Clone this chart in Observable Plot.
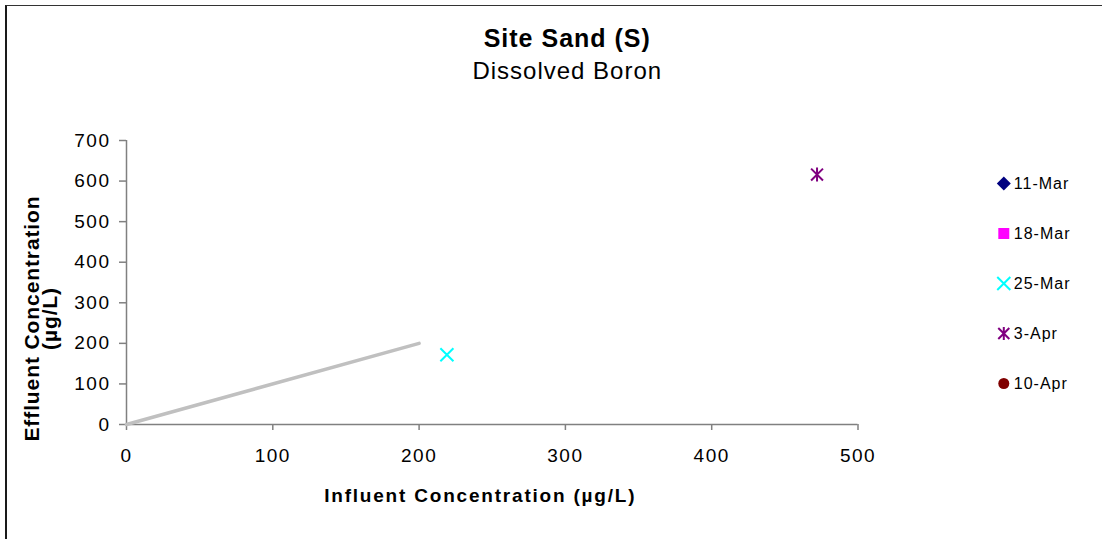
<!DOCTYPE html>
<html>
<head>
<meta charset="utf-8">
<script src="https://cdn.jsdelivr.net/npm/d3@7"></script>
<script src="https://cdn.jsdelivr.net/npm/@observablehq/plot@0.6"></script>
<style>
  html, body { margin: 0; padding: 0; background: #fff; }
  #wrap { position: relative; width: 1102px; height: 539px; overflow: hidden; background: #fff; }
  #border { position: absolute; left: 5px; top: 5px; width: 1300px; height: 800px;
            border-left: 2px solid #1a1a1a; border-top: 1px solid #333; box-sizing: border-box; }
  #main, #legend { position: absolute; top: 0; }
  #main { left: 0; }
  #legend { left: 980px; }
  svg text { letter-spacing: 1px; }
  .tick-lab text { letter-spacing: 1.5px; }
  .axis-title text { letter-spacing: 1.8px; }
  .axis-title-y text { letter-spacing: 0.9px; }
</style>
</head>
<body>
<div id="wrap">
  <div id="border"></div>
  <div id="main"></div>
  <div id="legend"></div>
</div>
<script>
// ---- data ----
const titleText = "Site Sand (S)";
const subtitleText = "Dissolved Boron";
const xLabel = "Influent Concentration (µg/L)";
const yLabelLines = ["Effluent Concentration", "(µg/L)"];

const dates = ["11-Mar", "18-Mar", "25-Mar", "3-Apr", "10-Apr"];
const influent = [null, null, 219, 472, null];
const effluent = [null, null, 172, 616, null];
const colors = ["#000080", "#FF00FF", "#00FFFF", "#800080", "#800000"];

const refX = [0, 200];
const refY = [0, 200];

const xTicks = [0, 100, 200, 300, 400, 500];
const yTicks = [0, 100, 200, 300, 400, 500, 600, 700];

// ---- symbols ----
const excelStar = {
  draw(ctx, size) {
    const h = Math.sqrt(size / Math.PI);
    const d = h * 0.85;
    ctx.moveTo(0, -h); ctx.lineTo(0, h);
    ctx.moveTo(-d, -d); ctx.lineTo(d, d);
    ctx.moveTo(-d, d); ctx.lineTo(d, -d);
  }
};
const symbols = ["diamond2", "square", "times", excelStar, "circle"];
const filled = [true, true, false, false, true];
const plotR = [6.3, 6.2, 6, 7, 5.5];
const legendR = [6.3, 6.2, 6, 6.5, 5.5];

const font = 'Arial, "Liberation Sans", sans-serif';

const rows = dates.map((d, i) => ({date: d, x: influent[i], y: effluent[i]}));
const refRows = refX.map((x, i) => ({x, y: refY[i]}));

function seriesDot(data, i, r, channels) {
  const base = {...channels, symbol: symbols[i], r};
  return filled[i]
    ? Plot.dot(data, {...base, fill: colors[i], stroke: "none"})
    : Plot.dot(data, {...base, stroke: colors[i], strokeWidth: 2, fill: "none"});
}

const lab = {textAnchor: "middle", lineAnchor: "middle", fill: "black", text: d => d};
const axLab = {...lab, fontSize: 19, fontWeight: "bold", className: "axis-title"};
const axLabY = {...lab, fontSize: 21, fontWeight: "bold", className: "axis-title-y", rotate: -90, frameAnchor: "left"};

const main = Plot.plot({
  width: 1102,
  height: 539,
  marginLeft: 126,
  marginRight: 244.5,
  marginTop: 140,
  marginBottom: 115,
  x: {domain: [0, 500]},
  y: {domain: [0, 700]},
  style: {fontFamily: font, background: "transparent", color: "black", overflow: "visible"},
  marks: [
    Plot.ruleY([0], {stroke: "#808080", strokeWidth: 1.5}),
    Plot.ruleX([0], {stroke: "#808080", strokeWidth: 1.5}),
    Plot.axisX(xTicks, {tickSize: 6, tickPadding: 18, stroke: "#808080", strokeWidth: 1.5, fill: "black", fontSize: 19, label: null, className: "tick-lab"}),
    Plot.axisY(yTicks, {tickSize: 7, tickPadding: 9, stroke: "#808080", strokeWidth: 1.5, fill: "black", fontSize: 19, label: null, className: "tick-lab"}),
    Plot.line(refRows, {x: "x", y: "y", stroke: "#c0c0c0", strokeWidth: 3.5, strokeLinecap: "round"}),
    ...dates.map((d, i) => seriesDot(rows.filter(r => r.date === d && r.x != null), i, plotR[i], {x: "x", y: "y"})),
    // titles
    Plot.text([titleText], {...lab, frameAnchor: "top", dx: 75, dy: -102, fontSize: 25, fontWeight: "bold"}),
    Plot.text([subtitleText], {...lab, frameAnchor: "top", dx: 75, dy: -69, fontSize: 24}),
    // axis labels
    Plot.text([xLabel], {...axLab, frameAnchor: "bottom", dx: -12, dy: 71}),
    Plot.text([yLabelLines[0]], {...axLabY, dx: 32 - 126, dy: 36}),
    Plot.text([yLabelLines[1]], {...axLabY, dx: 50 - 126, dy: 36})
  ]
});
document.getElementById("main").appendChild(main);

const legendRows = dates.map(d => ({date: d}));
const legend = Plot.plot({
  width: 122,
  height: 539,
  marginLeft: 23.3,
  marginRight: 0,
  marginTop: 0,
  marginBottom: 0,
  y: {type: "point", domain: dates, range: [182.7, 384], padding: 0, axis: null},
  style: {fontFamily: font, background: "transparent", color: "black", overflow: "visible"},
  marks: [
    ...dates.map((d, i) => seriesDot(legendRows.filter(r => r.date === d), i, legendR[i], {y: "date", frameAnchor: "left"})),
    Plot.text(legendRows, {y: "date", frameAnchor: "left", dx: 10, text: "date", textAnchor: "start", lineAnchor: "middle", fontSize: 16, fill: "black"})
  ]
});
document.getElementById("legend").appendChild(legend);
</script>
</body>
</html>
